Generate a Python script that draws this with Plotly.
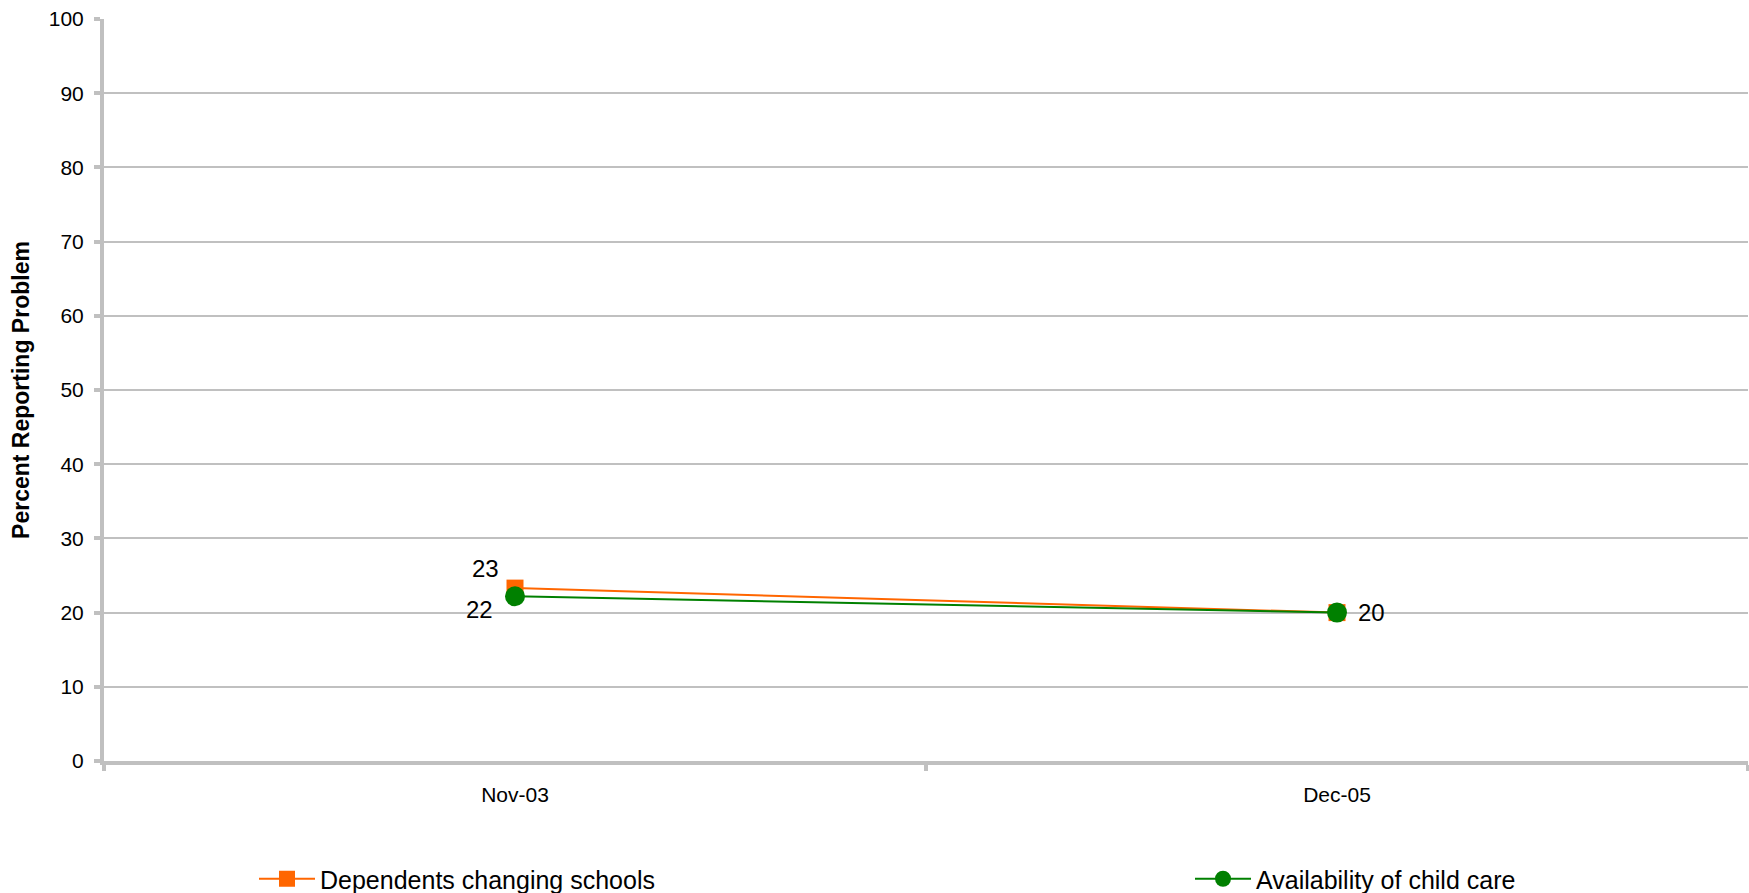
import plotly.graph_objects as go

categories = ["Nov-03", "Dec-05"]
schools = [23.3, 20.0]
childcare = [22.2, 20.0]
y_ticks = list(range(0, 101, 10))

series_names = ["Dependents changing schools", "Availability of child care"]

fig = go.Figure()
fig.add_trace(go.Scatter(
    x=categories, y=schools, mode="lines+markers", name=series_names[0],
    line=dict(color="#FF6600", width=2),
    marker=dict(symbol="square", size=17, color="#FF6600"),
    legend="legend",
))
fig.add_trace(go.Scatter(
    x=categories, y=childcare, mode="lines+markers", name=series_names[1],
    line=dict(color="#008000", width=2),
    marker=dict(symbol="circle", size=20, color="#008000"),
    legend="legend2",
))

label_font = dict(family="Liberation Sans, Arial, sans-serif", size=24, color="#000000")
shifts_schools = [(-30, 20), (34, 0)]
shifts_care = [(-36, -13), (34, 0)]
for i, cat in enumerate(categories):
    # orange label hidden behind green one when values coincide
    if round(schools[i]) != round(childcare[i]):
        dx, dy = shifts_schools[i]
        fig.add_annotation(x=cat, y=schools[i], text=f"{schools[i]:.0f}", showarrow=False,
                           xshift=dx, yshift=dy, font=label_font)
    dx, dy = shifts_care[i]
    fig.add_annotation(x=cat, y=childcare[i], text=f"{childcare[i]:.0f}", showarrow=False,
                       xshift=dx, yshift=dy, font=label_font)

legend_common = dict(orientation="h", xref="container", yref="container",
                     xanchor="left", y=1 - 879 / 893, yanchor="middle",
                     itemwidth=56, font=dict(size=25), bgcolor="rgba(0,0,0,0)")

fig.update_layout(
    width=1749, height=893,
    paper_bgcolor="white", plot_bgcolor="white",
    margin=dict(l=104, r=1, t=19, b=132),
    font=dict(family="Liberation Sans, Arial, sans-serif", size=21, color="#000000"),
    showlegend=True,
    legend=dict(x=254 / 1749, **legend_common),
    legend2=dict(x=1190 / 1749, **legend_common),
)
fig.update_xaxes(
    type="category", range=[-0.5, 1.5], tickson="boundaries", automargin=False,
    showline=True, linecolor="#C0C0C0", linewidth=4,
    ticks="outside", ticklen=6, tickwidth=4, tickcolor="#C0C0C0",
    showgrid=False, zeroline=False, ticklabelstandoff=12,
    tickfont=dict(size=21),
)
fig.update_yaxes(
    range=[0, 100], tickvals=y_ticks, ticktext=[str(t) for t in y_ticks],
    automargin=False,
    showline=True, linecolor="#C0C0C0", linewidth=4,
    ticks="outside", ticklen=6, tickwidth=4, tickcolor="#C0C0C0",
    showgrid=True, gridcolor="#C0C0C0", gridwidth=2, zeroline=False,
    ticklabelstandoff=6, tickfont=dict(size=21),
    title=dict(text="<b>Percent Reporting Problem</b>", font=dict(size=23), standoff=14),
)

fig.write_html("out.html", config={"displayModeBar": False},
               post_script="document.body.style.margin='0';")
